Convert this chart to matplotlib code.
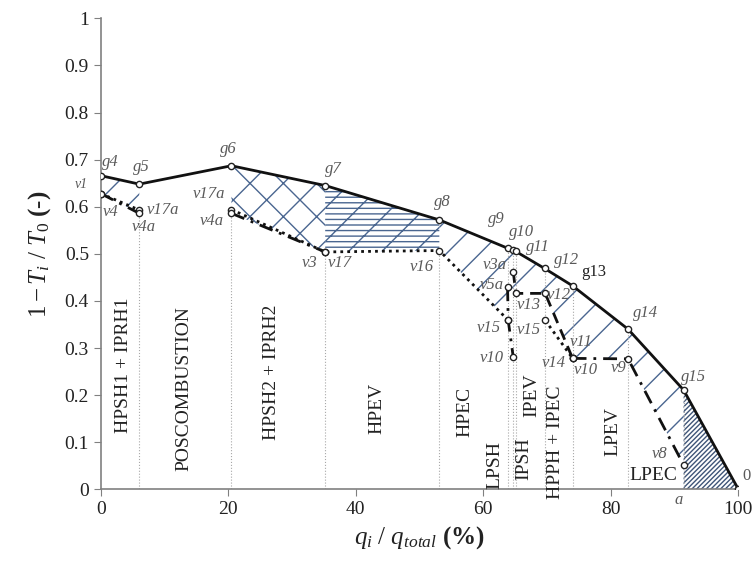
import matplotlib
matplotlib.use("Agg")
import matplotlib.pyplot as plt
import numpy as np

plt.rcParams['font.family'] = ['Liberation Serif', 'DejaVu Serif']
plt.rcParams['mathtext.fontset'] = 'custom'
plt.rcParams['mathtext.rm'] = 'Liberation Serif'
plt.rcParams['mathtext.it'] = 'Liberation Serif:italic'
plt.rcParams['mathtext.bf'] = 'Liberation Serif:bold'
plt.rcParams['hatch.linewidth'] = 1.0

# hot gas composite curve
hot_q = [0, 6.05, 20.5, 35.2, 53.1, 63.8, 64.6, 65.1, 69.6, 74.0, 82.7, 91.4, 100]
hot_t = [0.666, 0.648, 0.687, 0.645, 0.572, 0.512, 0.508, 0.505, 0.469, 0.432, 0.340, 0.211, 0.0]

# cold side streams (water / steam)
dot_a_q = [0, 6.05]
dot_a_t = [0.628, 0.593]
dot_b_q = [20.5, 35.2, 53.1, 63.9]
dot_b_t = [0.594, 0.504, 0.507, 0.359]
dot_c_q = [69.7, 74.0]
dot_c_t = [0.359, 0.278]
dd_a_q = [0, 6.05]
dd_a_t = [0.628, 0.586]
dd_b_q = [20.5, 35.2]
dd_b_t = [0.586, 0.504]
dd_c_q = [63.8, 63.9, 64.7]
dd_c_t = [0.429, 0.359, 0.280]
dd_d_q = [74.0, 82.7, 91.4]
dd_d_t = [0.278, 0.277, 0.052]
dash_q = [64.7, 65.1, 69.7, 74.0]
dash_t = [0.462, 0.416, 0.416, 0.278]

# region boundaries (q) and height of the guide line
bound_q = [6.05, 20.5, 35.2, 53.1, 63.8, 64.7, 65.1, 69.7, 74.0, 82.7, 91.4]
bound_top = [0.586, 0.586, 0.504, 0.507, 0.512, 0.507, 0.505, 0.469, 0.432, 0.340, 0.211]

zones = ['HPSH1 + IPRH1', 'POSCOMBUSTION', 'HPSH2 + IPRH2', 'HPEV', 'HPEC',
         'LPSH', 'IPSH', 'IPEV', 'HPPH + IPEC', 'LPEV']
zone_q = [3.5, 13.0, 26.8, 43.3, 57.1, 61.8, 66.3, 67.6, 71.3, 80.3]
zone_t = [0.264, 0.213, 0.248, 0.172, 0.164, 0.052, 0.066, 0.20, 0.10, 0.122]

point_labels = [
    ('g4', 1.5, 0.695), ('g5', 6.4, 0.685), ('v1', -3.0, 0.648), ('v4', 1.5, 0.589),
    ('v17a', 9.8, 0.594), ('v4a', 6.7, 0.556), ('g6', 20.0, 0.722), ('v17a', 17.0, 0.626),
    ('v4a', 17.4, 0.570), ('g7', 36.5, 0.681), ('v3', 32.7, 0.48), ('v17', 37.5, 0.48),
    ('v16', 50.3, 0.473), ('g8', 53.6, 0.611), ('g9', 62.1, 0.575), ('g10', 66.0, 0.547),
    ('g11', 68.6, 0.515), ('g12', 73.1, 0.487), ('g14', 85.4, 0.374), ('g15', 92.9, 0.239),
    ('v3a', 61.8, 0.476), ('v5a', 61.3, 0.434), ('v13', 67.1, 0.391), ('v12', 71.8, 0.412),
    ('v15', 60.8, 0.342), ('v15', 67.1, 0.338), ('v11', 75.4, 0.313), ('v10', 61.3, 0.278),
    ('v14', 71.0, 0.268), ('v10', 76.0, 0.253), ('v9', 81.2, 0.257), ('v8', 87.7, 0.076),
    ('a', 90.6, -0.022)]

hatch_col = '#4a6690'
grey = '#595959'

fig = plt.figure(figsize=(7.55, 5.61), dpi=100)
ax = fig.add_axes([0.1334, 0.1278, 0.8446, 0.8395])

# hatched regions
def region(q_top, t_top, q_bot, t_bot, hatch, col=hatch_col):
    xs = np.concatenate([q_top, q_bot[::-1]])
    ys = np.concatenate([t_top, t_bot[::-1]])
    ax.fill(xs, ys, facecolor='none', edgecolor=col, hatch=hatch, linewidth=0, zorder=1)

hq = np.array(hot_q)
ht = np.array(hot_t)
region(hq[0:2], ht[0:2], np.array(dd_a_q), np.array(dd_a_t), '/')
region(hq[2:4], ht[2:4], np.array(dd_b_q), np.array(dd_b_t), 'x')
region(hq[3:5], ht[3:5], np.array(dot_b_q[1:3]), np.array(dot_b_t[1:3]), '/---')
low4_q = np.array([dot_b_q[2], dot_b_q[3], dash_q[1], dash_q[2], dash_q[3], dd_d_q[1], dd_d_q[2]])
low4_t = np.array([dot_b_t[2], dot_b_t[3], dash_t[1], dash_t[2], dash_t[3], dd_d_t[1], dd_d_t[2]])
region(hq[4:12], ht[4:12], low4_q, low4_t, '/')
region(hq[11:13], ht[11:13], np.array([hot_q[11], hot_q[12]]), np.array([0, 0]), '///////', '#3f5578')

# guide lines
for q, top in zip(bound_q, bound_top):
    ax.plot([q, q], [0, top], color='#a8a8a8', lw=0.8, ls=':', zorder=1)

# cold streams
mk = dict(marker='o', ms=4.5, mfc='white', mec='#222222', mew=1.0, color='#111111', lw=2.0, zorder=3)
for q, t in [(dot_a_q, dot_a_t), (dot_b_q, dot_b_t), (dot_c_q, dot_c_t)]:
    ax.plot(q, t, ls=(0, (1, 1.5)), **mk)
for q, t in [(dd_a_q, dd_a_t), (dd_b_q, dd_b_t), (dd_c_q, dd_c_t), (dd_d_q, dd_d_t)]:
    ax.plot(q, t, ls=(0, (5, 2.5, 1, 2.5)), **mk)
ax.plot(dash_q, dash_t, ls=(0, (4, 2.5)), **mk)

# hot curve
ax.plot(hot_q, hot_t, color='#111111', lw=2.0, marker='o', ms=4.5, mfc='white',
        mec='#222222', mew=1.0, zorder=4)

# labels
for name, q, t in zip(zones, zone_q, zone_t):
    ax.text(q, t, name, rotation=90, ha='center', va='center', fontsize=14,
            color='#222222', clip_on=False)
ax.text(86.6, 0.03, 'LPEC', ha='center', va='center', fontsize=14, color='#222222')

for name, q, t in point_labels:
    fs = 10 if name == 'v1' else 12
    ax.text(q, t, name, ha='center', va='center', fontsize=fs, style='italic',
            color=grey, clip_on=False, zorder=5)
ax.text(77.3, 0.462, 'g13', ha='center', va='center', fontsize=12, color='#222222', zorder=5)
ax.text(101.3, 0.028, '0', ha='center', va='center', fontsize=12, color=grey, clip_on=False)

ax.set_xlim(0, 100)
ax.set_ylim(0, 1)
ax.set_xticks(np.arange(0, 101, 20))
ax.set_yticks(np.arange(0, 1.01, 0.1))
ax.set_yticklabels(['0', '0.1', '0.2', '0.3', '0.4', '0.5', '0.6', '0.7', '0.8', '0.9', '1'])
ax.tick_params(labelsize=14, direction='out', length=5, color='#808080', labelcolor='#222222')
for s in ['top', 'right']:
    ax.spines[s].set_visible(False)
for s in ['left', 'bottom']:
    ax.spines[s].set_color('#808080')
    ax.spines[s].set_linewidth(1.2)

ax.set_xlabel(r'$q_i\ /\ q_{total}$ $\mathbf{(\%)}$', fontsize=18, color='#222222', labelpad=4)
ax.set_ylabel(r'$1 - T_i\ /\ T_0$ $\mathbf{(}$-$\mathbf{)}$', fontsize=18, color='#222222', labelpad=8)

fig.savefig('out.png', dpi=100)
